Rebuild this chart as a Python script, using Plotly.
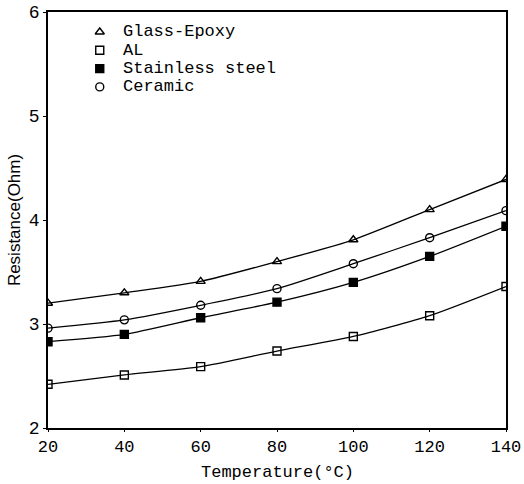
import plotly.graph_objects as go

temperature = [20, 40, 60, 80, 100, 120, 140]
glass_epoxy = [3.20, 3.30, 3.41, 3.60, 3.81, 4.10, 4.39]
aluminium = [2.42, 2.51, 2.59, 2.74, 2.88, 3.08, 3.36]
stainless = [2.83, 2.90, 3.06, 3.21, 3.40, 3.65, 3.94]
ceramic = [2.96, 3.04, 3.18, 3.34, 3.58, 3.83, 4.09]

series_names = ["Glass-Epoxy", "AL", "Stainless steel", "Ceramic"]
series_values = [glass_epoxy, aluminium, stainless, ceramic]
series_symbols = ["triangle-up-open", "square-open", "square", "circle-open"]

FONT = "Liberation Mono, Courier New, monospace"
FS = 18
KEY_FS = 17

fig = go.Figure()
for name, vals, sym in zip(series_names, series_values, series_symbols):
    fig.add_trace(go.Scatter(
        x=temperature, y=vals, mode="lines+markers", name=name,
        line=dict(color="black", width=1.3, shape="spline", smoothing=0.6),
        marker=dict(symbol=sym, size=8, color="black", line=dict(width=1.4, color="black")),
        showlegend=False,
    ))

# hand-built key in the upper-left corner, on an overlay axis spanning 0..1
key_x = 0.113
key_text_x = 0.160
key_y0, key_dy = 0.952, 0.044
key_rows = [key_y0 - i * key_dy for i in range(len(series_names))]
for name, sym, ky in zip(series_names, series_symbols, key_rows):
    fig.add_trace(go.Scatter(
        x=[key_x], y=[ky], xaxis="x2", yaxis="y2", mode="markers", showlegend=False,
        marker=dict(symbol=sym, size=8, color="black", line=dict(width=1.4, color="black")),
        hoverinfo="skip",
    ))
    fig.add_annotation(x=key_text_x, y=ky, xref="x2", yref="y2", text=name,
                       showarrow=False, xanchor="left", yanchor="middle",
                       font=dict(family=FONT, size=KEY_FS, color="black"))

# axis titles
fig.add_annotation(x=0.5, y=-0.106, xref="paper", yref="paper", yanchor="middle",
                   text="Temperature(°C)", showarrow=False,
                   font=dict(family=FONT, size=17, color="black"))
fig.add_annotation(x=-0.074, y=0.5, xref="paper", yref="paper", text="Resistance(Ohm)",
                   showarrow=False, textangle=-90, xanchor="center", yanchor="middle",
                   font=dict(family="Liberation Sans, Arial, sans-serif", size=17, color="black"))

fig.update_layout(
    width=524, height=484,
    margin=dict(l=48, r=18, t=12, b=56, autoexpand=False),
    paper_bgcolor="white", plot_bgcolor="white",
    font=dict(family=FONT, color="black", size=FS),
    showlegend=False,
    xaxis=dict(range=[20, 140], tickvals=temperature, showgrid=False, zeroline=False,
               showline=True, linecolor="black", linewidth=1.5, mirror=True,
               ticks="outside", ticklen=2, tickcolor="black", automargin=False,
               tickfont=dict(family=FONT, size=17)),
    yaxis=dict(range=[2, 6], tickvals=[2, 3, 4, 5, 6], showgrid=False, zeroline=False,
               showline=True, linecolor="black", linewidth=1.5, mirror=True,
               ticks="outside", ticklen=3, tickcolor="black", automargin=False,
               tickfont=dict(family=FONT, size=FS)),
    xaxis2=dict(range=[0, 1], overlaying="x", visible=False, fixedrange=True),
    yaxis2=dict(range=[0, 1], overlaying="y", visible=False, fixedrange=True),
)

fig.write_html("out.html")
